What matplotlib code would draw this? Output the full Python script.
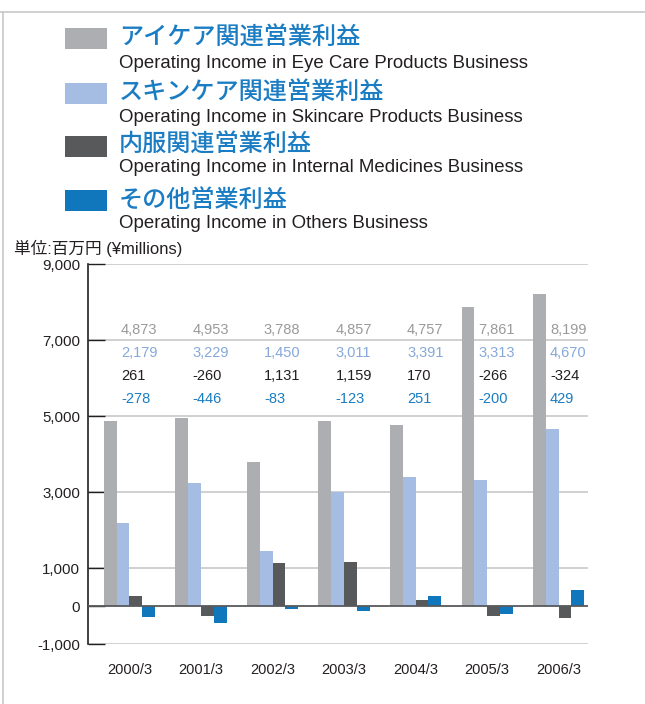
import matplotlib
matplotlib.use('Agg')

import matplotlib.pyplot as plt
import numpy as np
from matplotlib.patches import Rectangle
from matplotlib.lines import Line2D

# Data (¥ millions)
years = ['2000/3', '2001/3', '2002/3', '2003/3', '2004/3', '2005/3', '2006/3']
eye_care = [4873, 4953, 3788, 4857, 4757, 7861, 8199]
skincare = [2179, 3229, 1450, 3011, 3391, 3313, 4670]
internal = [261, -260, 1131, 1159, 170, -266, -324]
others = [-278, -446, -83, -123, 251, -200, 429]

jp_labels = ['アイケア関連営業利益', 'スキンケア関連営業利益', '内服関連営業利益', 'その他営業利益']
en_labels = ['Operating Income in Eye Care Products Business',
             'Operating Income in Skincare Products Business',
             'Operating Income in Internal Medicines Business',
             'Operating Income in Others Business']
yticks = [-1000, 0, 1000, 3000, 5000, 7000, 9000]

colors = ['#adaeb2', '#a5bde2', '#58595b', '#1077bd']
label_colors = ['#9a9a9c', '#86a8da', '#231f20', '#1a7cc2']

plt.rcParams['font.family'] = ['Liberation Sans', 'Noto Sans CJK JP', 'DejaVu Sans']

fig = plt.figure(figsize=(6.45, 7.04), dpi=100)
W, H = 645, 704

# frame lines
fig.add_artist(Line2D([0, 1], [1 - 12 / H, 1 - 12 / H], transform=fig.transFigure,
                      color='#c8c8cc', lw=1.2))
fig.add_artist(Line2D([3 / W, 3 / W], [0, 1 - 12 / H], transform=fig.transFigure,
                      color='#c8c8cc', lw=1.2))

# legend block
sq_y = [38.5, 93.5, 146, 200.5]
en_y = [63, 117, 168, 223]
for i in range(4):
    fig.add_artist(Rectangle((65 / W, 1 - (sq_y[i] + 10.5) / H), 42 / W, 21 / H,
                             transform=fig.transFigure, color=colors[i], lw=0))
    fig.text(119 / W, 1 - (sq_y[i] - 1) / H, jp_labels[i], fontsize=17.4,
             color='#1a7cc2', va='center', ha='left',
             family=['Noto Sans CJK JP', 'DejaVu Sans'], fontweight='medium')
    fig.text(119 / W, 1 - en_y[i] / H, en_labels[i], fontsize=13.4, color='#231f20',
             va='center', ha='left')

fig.text(14 / W, 1 - 248 / H, '単位:百万円 (¥millions)', fontsize=12, color='#231f20',
         va='center', ha='left')

ax = fig.add_axes([88 / W, 1 - 644 / H, 500 / W, 380 / H])
x = np.arange(len(years))
bw = 0.179
series = [eye_care, skincare, internal, others]
for i, s in enumerate(series):
    ax.bar(x + (i - 1.5) * bw, s, width=bw, color=colors[i], lw=0, zorder=3)

ax.set_xlim(-0.58, 6.41)
ax.set_ylim(-1000, 9000)
ax.set_yticks(yticks)
ax.set_yticklabels([f'{v:,}' for v in yticks])
ax.set_xticks(x)
ax.set_xticklabels(years)
ax.tick_params(axis='y', direction='in', length=12, width=1, color='#231f20',
               labelsize=10.8, labelcolor='#231f20', pad=5.5)
ax.tick_params(axis='x', length=0, labelsize=10.5, labelcolor='#231f20', pad=14)

for v in yticks:
    if v != 0:
        ax.axhline(v, color='#c8c8ca', lw=1.2, zorder=1)
ax.axhline(0, color='#58595b', lw=1.3, zorder=4)

for sp in ['top', 'right', 'bottom']:
    ax.spines[sp].set_visible(False)
ax.spines['left'].set_color('#231f20')
ax.spines['left'].set_linewidth(1.2)

# value table
row_y = [7263, 6658, 6053, 5447]
for i, s in enumerate(series):
    for j, v in enumerate(s):
        ax.text(j - 0.12, row_y[i], f'{v:,}', fontsize=10.5, color=label_colors[i],
                ha='left', va='center', zorder=5)

fig.savefig('out.png', dpi=100)
plt.close(fig)
